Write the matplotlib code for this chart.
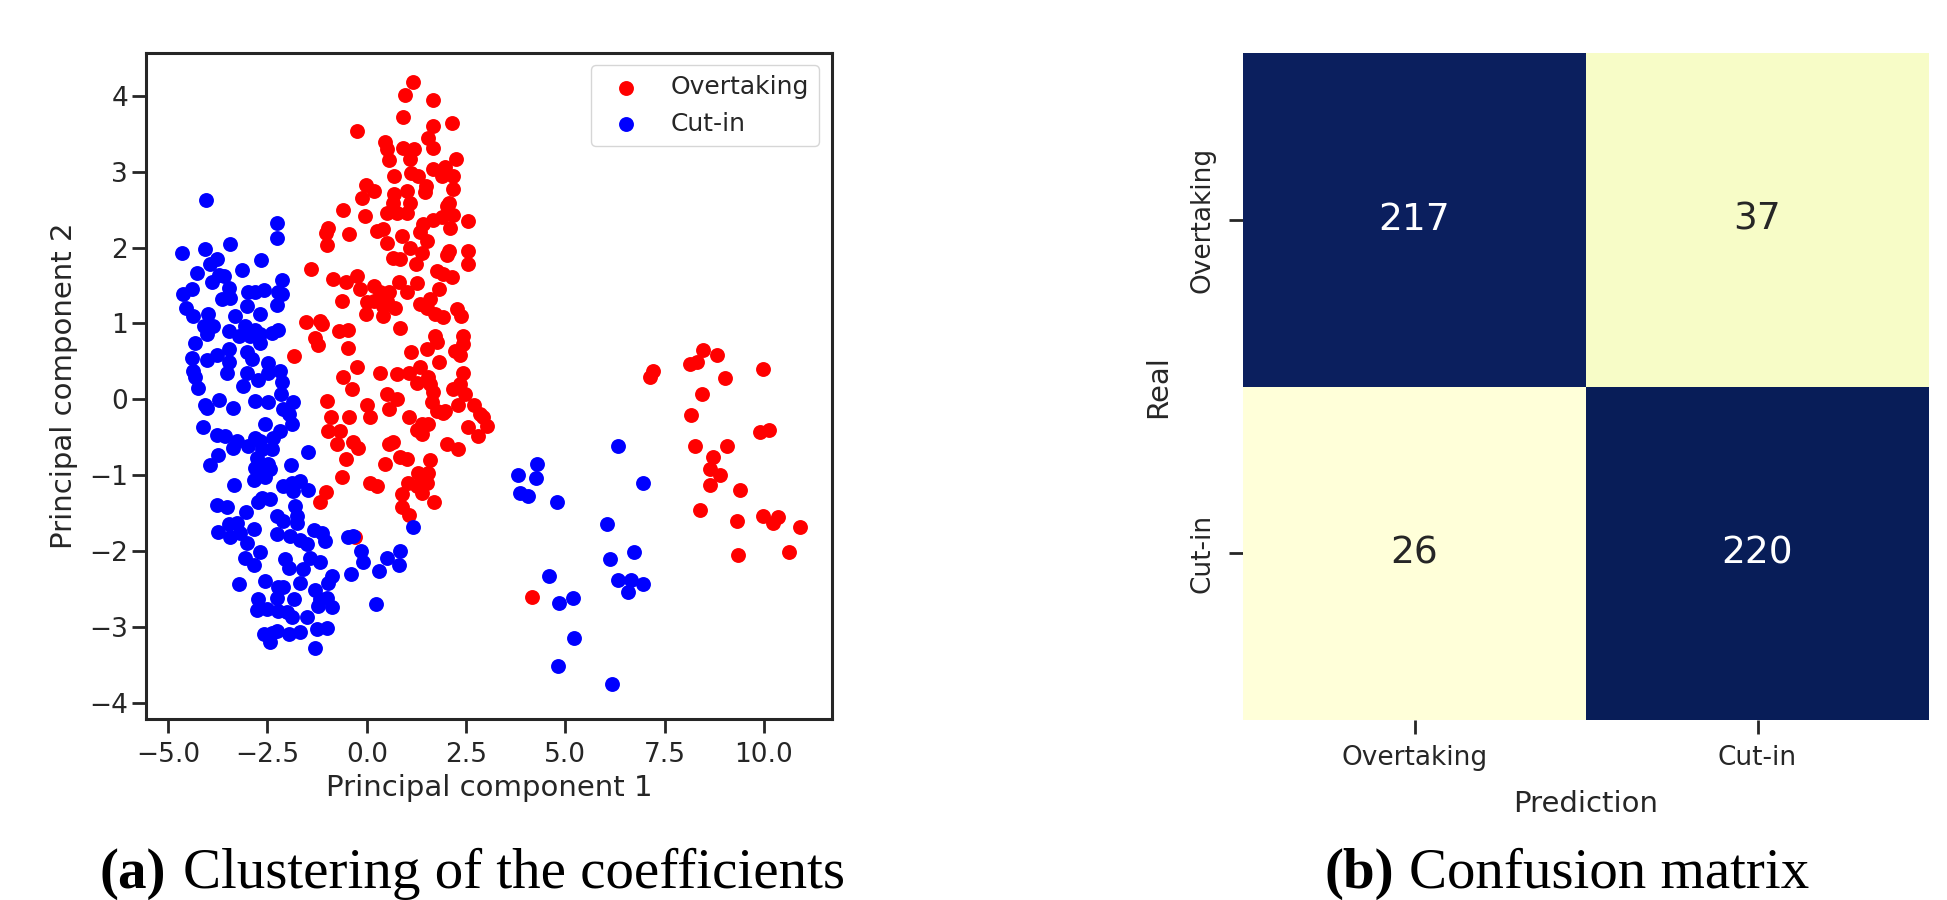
import matplotlib
matplotlib.use("Agg")
import matplotlib.pyplot as plt
import seaborn as sns
import numpy as np

sns.set_style("ticks")
plt.rcParams['font.family'] = ['DejaVu Sans']
plt.rcParams['text.color'] = '#262626'
plt.rcParams['axes.labelcolor'] = '#262626'
plt.rcParams['xtick.color'] = '#262626'
plt.rcParams['ytick.color'] = '#262626'

# ---- PCA scatter: Overtaking (red) ----
over_x = [
    1.16, 0.97, 1.66, 0.92, -0.24, 1.66, 2.14, 1.55, 0.46, 0.52,
    0.92, 1.18, 1.68, 1.09, 0.57, 2.25, 0.69, 1.11, 1.30, 1.66,
    1.97, 1.89, 2.18, -0.02, 0.17, 1.49, 1.47, 2.18, 0.69, 1.01,
    -0.13, 0.67, 1.09, 2.06, 2.02, -0.60, -0.04, 0.50, 0.76, 1.01,
    1.68, 1.89, 2.18, 2.56, 2.10, 1.41, -0.97, -1.02, -0.44, 0.25,
    0.42, 0.88, 1.34, -1.01, 0.52, 1.09, 1.51, 1.39, 2.08, 2.56,
    2.02, 2.56, 0.67, 0.84, 1.24, -1.41, 1.76, 1.93, 2.14, -0.84,
    -0.52, -0.24, -0.17, 0.17, 0.34, 0.55, 0.80, 1.26, 1.01, 1.81,
    0.00, -0.63, 0.71, 1.34, 1.60, 1.51, 2.27, 2.37, 1.72, 1.93,
    -0.02, 0.40, -1.54, -1.18, -1.13, -0.69, -0.46, 0.84, -1.30, -1.22,
    -0.46, 1.72, 1.76, 1.51, 2.43, 2.42, 2.23, 2.35, 1.11, 1.83,
    -0.24, 0.34, 0.76, 1.34, 1.07, 1.55, 2.43, -1.83, -0.59, 0.17,
    0.50, 0.42,
    -1.01, -0.38, 0.00, 0.07, 0.52, 0.76, 0.55, 1.07, 1.26, 1.60,
    1.68, 1.64, 1.76, 1.97, 2.18, 2.35, 2.48, 2.31, 2.69, 2.85,
    3.02, 2.56, 2.81, 1.39, 1.55, 1.39, 1.26, -0.90, -0.44, -0.97,
    -0.67, -0.76, -0.34, -0.21, 0.55, 0.67, 0.84, 1.01, 0.46, -0.53,
    -0.63, 0.08, 0.25, 1.60, 1.55, 1.30, 1.05, 1.26, 1.39, 1.51,
    0.88, 1.70, 0.88, 1.07, -1.02, -1.18, -0.29, 2.02, 2.31, 1.93,
    2.94,
    8.46, 8.82, 8.14, 8.31, 9.03, 9.97, 7.22, 7.14,
    8.44, 8.16, 9.91, 10.12, 8.27, 9.08, 8.72, 8.65, 8.90, 8.65,
    9.40, 8.40, 9.32, 9.99, 10.24, 10.37, 10.92, 9.36, 10.64, 4.17,
]
over_y = [
    4.18, 4.01, 3.94, 3.72, 3.54, 3.60, 3.64, 3.45, 3.39, 3.30,
    3.31, 3.30, 3.31, 3.17, 3.16, 3.17, 2.94, 2.98, 2.95, 3.04,
    3.06, 2.95, 2.95, 2.82, 2.74, 2.81, 2.73, 2.77, 2.71, 2.74,
    2.65, 2.59, 2.59, 2.59, 2.55, 2.49, 2.42, 2.45, 2.46, 2.46,
    2.37, 2.40, 2.43, 2.35, 2.26, 2.31, 2.26, 2.19, 2.18, 2.22,
    2.24, 2.15, 2.20, 2.04, 2.06, 2.00, 2.09, 1.93, 1.96, 1.96,
    1.90, 1.78, 1.86, 1.85, 1.79, 1.72, 1.69, 1.65, 1.61, 1.58,
    1.54, 1.62, 1.46, 1.50, 1.41, 1.41, 1.55, 1.53, 1.41, 1.45,
    1.28, 1.29, 1.21, 1.25, 1.32, 1.21, 1.19, 1.10, 1.12, 1.08,
    1.12, 1.10, 1.02, 1.03, 0.99, 0.90, 0.92, 0.94, 0.81, 0.71,
    0.67, 0.84, 0.75, 0.66, 0.84, 0.73, 0.64, 0.58, 0.62, 0.49,
    0.43, 0.35, 0.33, 0.42, 0.35, 0.29, 0.35, 0.57, 0.29, 1.30,
    1.30, 1.23,
    -0.02, 0.13, -0.07, -0.24, 0.07, 0.00, -0.13, -0.23, 0.22, 0.20,
    0.09, -0.04, -0.15, -0.15, 0.13, 0.20, 0.07, -0.07, -0.07, -0.20,
    -0.35, -0.37, -0.48, -0.33, -0.33, -0.46, -0.40, -0.23, -0.24, -0.42,
    -0.42, -0.59, -0.57, -0.64, -0.59, -0.57, -0.76, -0.79, -0.86, -0.79,
    -1.03, -1.10, -1.14, -0.80, -0.97, -0.97, -1.10, -1.14, -1.23, -1.10,
    -1.25, -1.36, -1.42, -1.53, -1.22, -1.36, -1.82, -0.59, -0.66, -0.18,
    -0.24,
    0.65, 0.59, 0.46, 0.49, 0.28, 0.40, 0.37, 0.29,
    0.07, -0.21, -0.43, -0.40, -0.61, -0.62, -0.76, -0.92, -1.00, -1.13,
    -1.20, -1.46, -1.60, -1.54, -1.63, -1.55, -1.68, -2.05, -2.02, -2.61,
]

# ---- PCA scatter: Cut-in (blue) ----
cut_x = [
    -4.06, -2.27, -2.27, -4.66, -4.07, -3.44, -2.67, -3.76, -3.95, -4.28,
    -3.71, -3.15, -3.90, -3.59, -2.14, -4.62, -4.41, -3.48, -3.65, -3.44,
    -2.98, -2.81, -2.60, -2.23, -2.14, -2.25, -4.55, -4.37, -3.99, -3.32,
    -3.02, -2.70, -4.11, -3.86, -4.03, -3.46, -3.06, -2.81, -3.23, -2.94,
    -2.69, -2.39, -2.23, -2.69, -4.32, -4.41, -4.03, -3.78, -3.46, -3.46,
    -3.02, -2.90, -2.48, -2.48, -2.18, -4.37, -4.32, -3.51, -3.02, -2.73,
    -2.14, -3.11, -4.24,
    -4.07, -4.03, -3.72, -3.38, -2.81, -2.48, -2.16, -2.10, -1.85, -1.97,
    -1.89, -2.56, -2.18, -2.35, -4.13, -3.78, -3.57, -3.27, -3.36, -2.98,
    -2.81, -2.69, -2.39, -2.64, -2.77, -2.48, -2.81, -2.64, -2.43, -2.56,
    -2.85, -3.74, -3.96, -1.91, -1.49, -3.34, -2.10, -1.89, -1.68, -1.47,
    -1.85, -2.64, -2.43, -2.73, -3.78, -3.51, -3.04, -2.27, -2.10, -1.81,
    -1.76, -1.76, -3.27, -3.48, -3.74, -3.44, -3.19, -3.02, -2.85, -2.27,
    -1.93, -1.68, -1.34, -1.13, -1.05, -1.51, -0.46, -0.34, -3.06, -2.85,
    -2.69, -2.06, -1.97, -1.60, -1.43, -1.18, -0.15, -0.10, 0.52, 0.84,
    0.81, 0.32, -0.40, -0.88, -0.97, -1.68, -2.56, -3.22, -2.23, -2.10,
    -1.30, -2.75, -2.27, -1.83, -1.18, -1.01, -0.88, -1.22, -2.77, -2.52,
    -2.23, -2.02, -1.89, -1.51, 0.24, -2.60, -2.39, -2.27, -2.43, -1.97,
    -1.68, -1.26, -1.01, -1.30, 1.16,
    6.34, 4.28, 3.80, 4.27, 3.86, 4.07, 4.79, 6.95, 6.05, 6.72,
    6.13, 6.34, 6.65, 6.59, 6.97, 4.58, 4.83, 5.19, 5.21, 4.81,
    6.17,
]
cut_y = [
    2.63, 2.32, 2.12, 1.93, 1.98, 2.05, 1.83, 1.85, 1.79, 1.66,
    1.64, 1.70, 1.55, 1.63, 1.57, 1.39, 1.46, 1.47, 1.32, 1.34,
    1.41, 1.42, 1.44, 1.41, 1.39, 1.24, 1.21, 1.10, 1.12, 1.10,
    1.23, 1.12, 0.97, 0.97, 0.86, 0.90, 0.96, 0.92, 0.84, 0.84,
    0.86, 0.88, 0.91, 0.74, 0.74, 0.54, 0.52, 0.59, 0.66, 0.49,
    0.62, 0.53, 0.48, 0.35, 0.37, 0.37, 0.29, 0.34, 0.35, 0.26,
    0.23, 0.18, 0.15,
    -0.07, -0.12, -0.01, -0.12, -0.02, -0.04, 0.07, -0.13, -0.04, -0.20,
    -0.32, -0.33, -0.42, -0.51, -0.37, -0.47, -0.48, -0.55, -0.64, -0.61,
    -0.51, -0.55, -0.65, -0.66, -0.77, -0.86, -0.90, -0.90, -0.92, -1.03,
    -1.06, -0.74, -0.87, -0.87, -0.69, -1.13, -1.14, -1.10, -1.08, -1.19,
    -1.21, -1.30, -1.32, -1.36, -1.40, -1.42, -1.49, -1.54, -1.61, -1.41,
    -1.54, -1.63, -1.63, -1.65, -1.75, -1.82, -1.76, -1.89, -1.71, -1.78,
    -1.80, -1.85, -1.72, -1.76, -1.87, -1.91, -1.82, -1.80, -2.09, -2.18,
    -2.02, -2.11, -2.22, -2.24, -2.09, -2.15, -2.00, -2.15, -2.09, -2.00,
    -2.18, -2.26, -2.30, -2.33, -2.42, -2.42, -2.39, -2.43, -2.48, -2.48,
    -2.51, -2.64, -2.62, -2.63, -2.64, -2.62, -2.74, -2.73, -2.78, -2.77,
    -2.79, -2.81, -2.87, -2.87, -2.70, -3.10, -3.08, -3.06, -3.20, -3.10,
    -3.07, -3.03, -3.01, -3.28, -1.68,
    -0.61, -0.86, -1.00, -1.04, -1.23, -1.28, -1.35, -1.10, -1.64, -2.02,
    -2.10, -2.38, -2.38, -2.54, -2.43, -2.33, -2.68, -2.62, -3.15, -3.52,
    -3.75,
]

# ---- confusion matrix ----
class_names = ["Overtaking", "Cut-in"]
conf_mat = np.array([[217, 37],
                     [26, 220]])

fig = plt.figure(figsize=(19.47, 9), dpi=100)

# left panel
ax1 = fig.add_axes([146 / 1947, 1 - 719.3 / 900, 685.7 / 1947, 666.6 / 900])
ax1.scatter(over_x, over_y, color="red", s=115, linewidths=0, label="Overtaking")
ax1.scatter(cut_x, cut_y, color="blue", s=115, linewidths=0, label="Cut-in")
ax1.set_xlim(-5.56, 11.71)
ax1.set_ylim(-4.22, 4.57)
ax1.set_xticks([-5, -2.5, 0, 2.5, 5, 7.5, 10])
ax1.set_yticks(range(-4, 5))
ax1.set_xlabel("Principal component 1", fontsize=21, labelpad=5)
ax1.set_ylabel("Principal component 2", fontsize=21, labelpad=8)
ax1.tick_params(labelsize=19, length=10, width=2, direction="out")
ax1.tick_params(axis="y", pad=3)
ax1.tick_params(axis="x", pad=6)
for sp in ax1.spines.values():
    sp.set_linewidth(2.2)
    sp.set_color("#262626")
ax1.legend(loc="upper right", fontsize=18, frameon=True, edgecolor="#cccccc")

# right panel
ax2 = fig.add_axes([1243 / 1947, 1 - 720 / 900, 686 / 1947, 667 / 900])
sns.heatmap(conf_mat, ax=ax2, cmap="YlGnBu", annot=True, fmt="d", cbar=False,
            xticklabels=class_names, yticklabels=class_names,
            annot_kws={"size": 27})
ax2.set_xlabel("Prediction", fontsize=21, labelpad=14)
ax2.set_ylabel("Real", fontsize=21, labelpad=12)
ax2.tick_params(labelsize=19, length=10, width=2)
ax2.tick_params(axis="y", pad=10)
ax2.tick_params(axis="x", pad=8)
for lab in ax2.get_yticklabels():
    lab.set_rotation(90)
    lab.set_va("center")

# sub-captions
cap_font = ["Liberation Serif", "DejaVu Serif"]
fig.text(166 / 1947, 12 / 900, "(a)", ha="right", va="baseline",
         fontsize=41, fontweight="bold", family=cap_font, color="black")
fig.text(183 / 1947, 12 / 900, "Clustering of the coefficients", ha="left",
         va="baseline", fontsize=41, family=cap_font, color="black")
fig.text(1394 / 1947, 12 / 900, "(b)", ha="right", va="baseline",
         fontsize=41, fontweight="bold", family=cap_font, color="black")
fig.text(1409 / 1947, 12 / 900, "Confusion matrix", ha="left",
         va="baseline", fontsize=41, family=cap_font, color="black")

fig.savefig("out.png", dpi=100)
